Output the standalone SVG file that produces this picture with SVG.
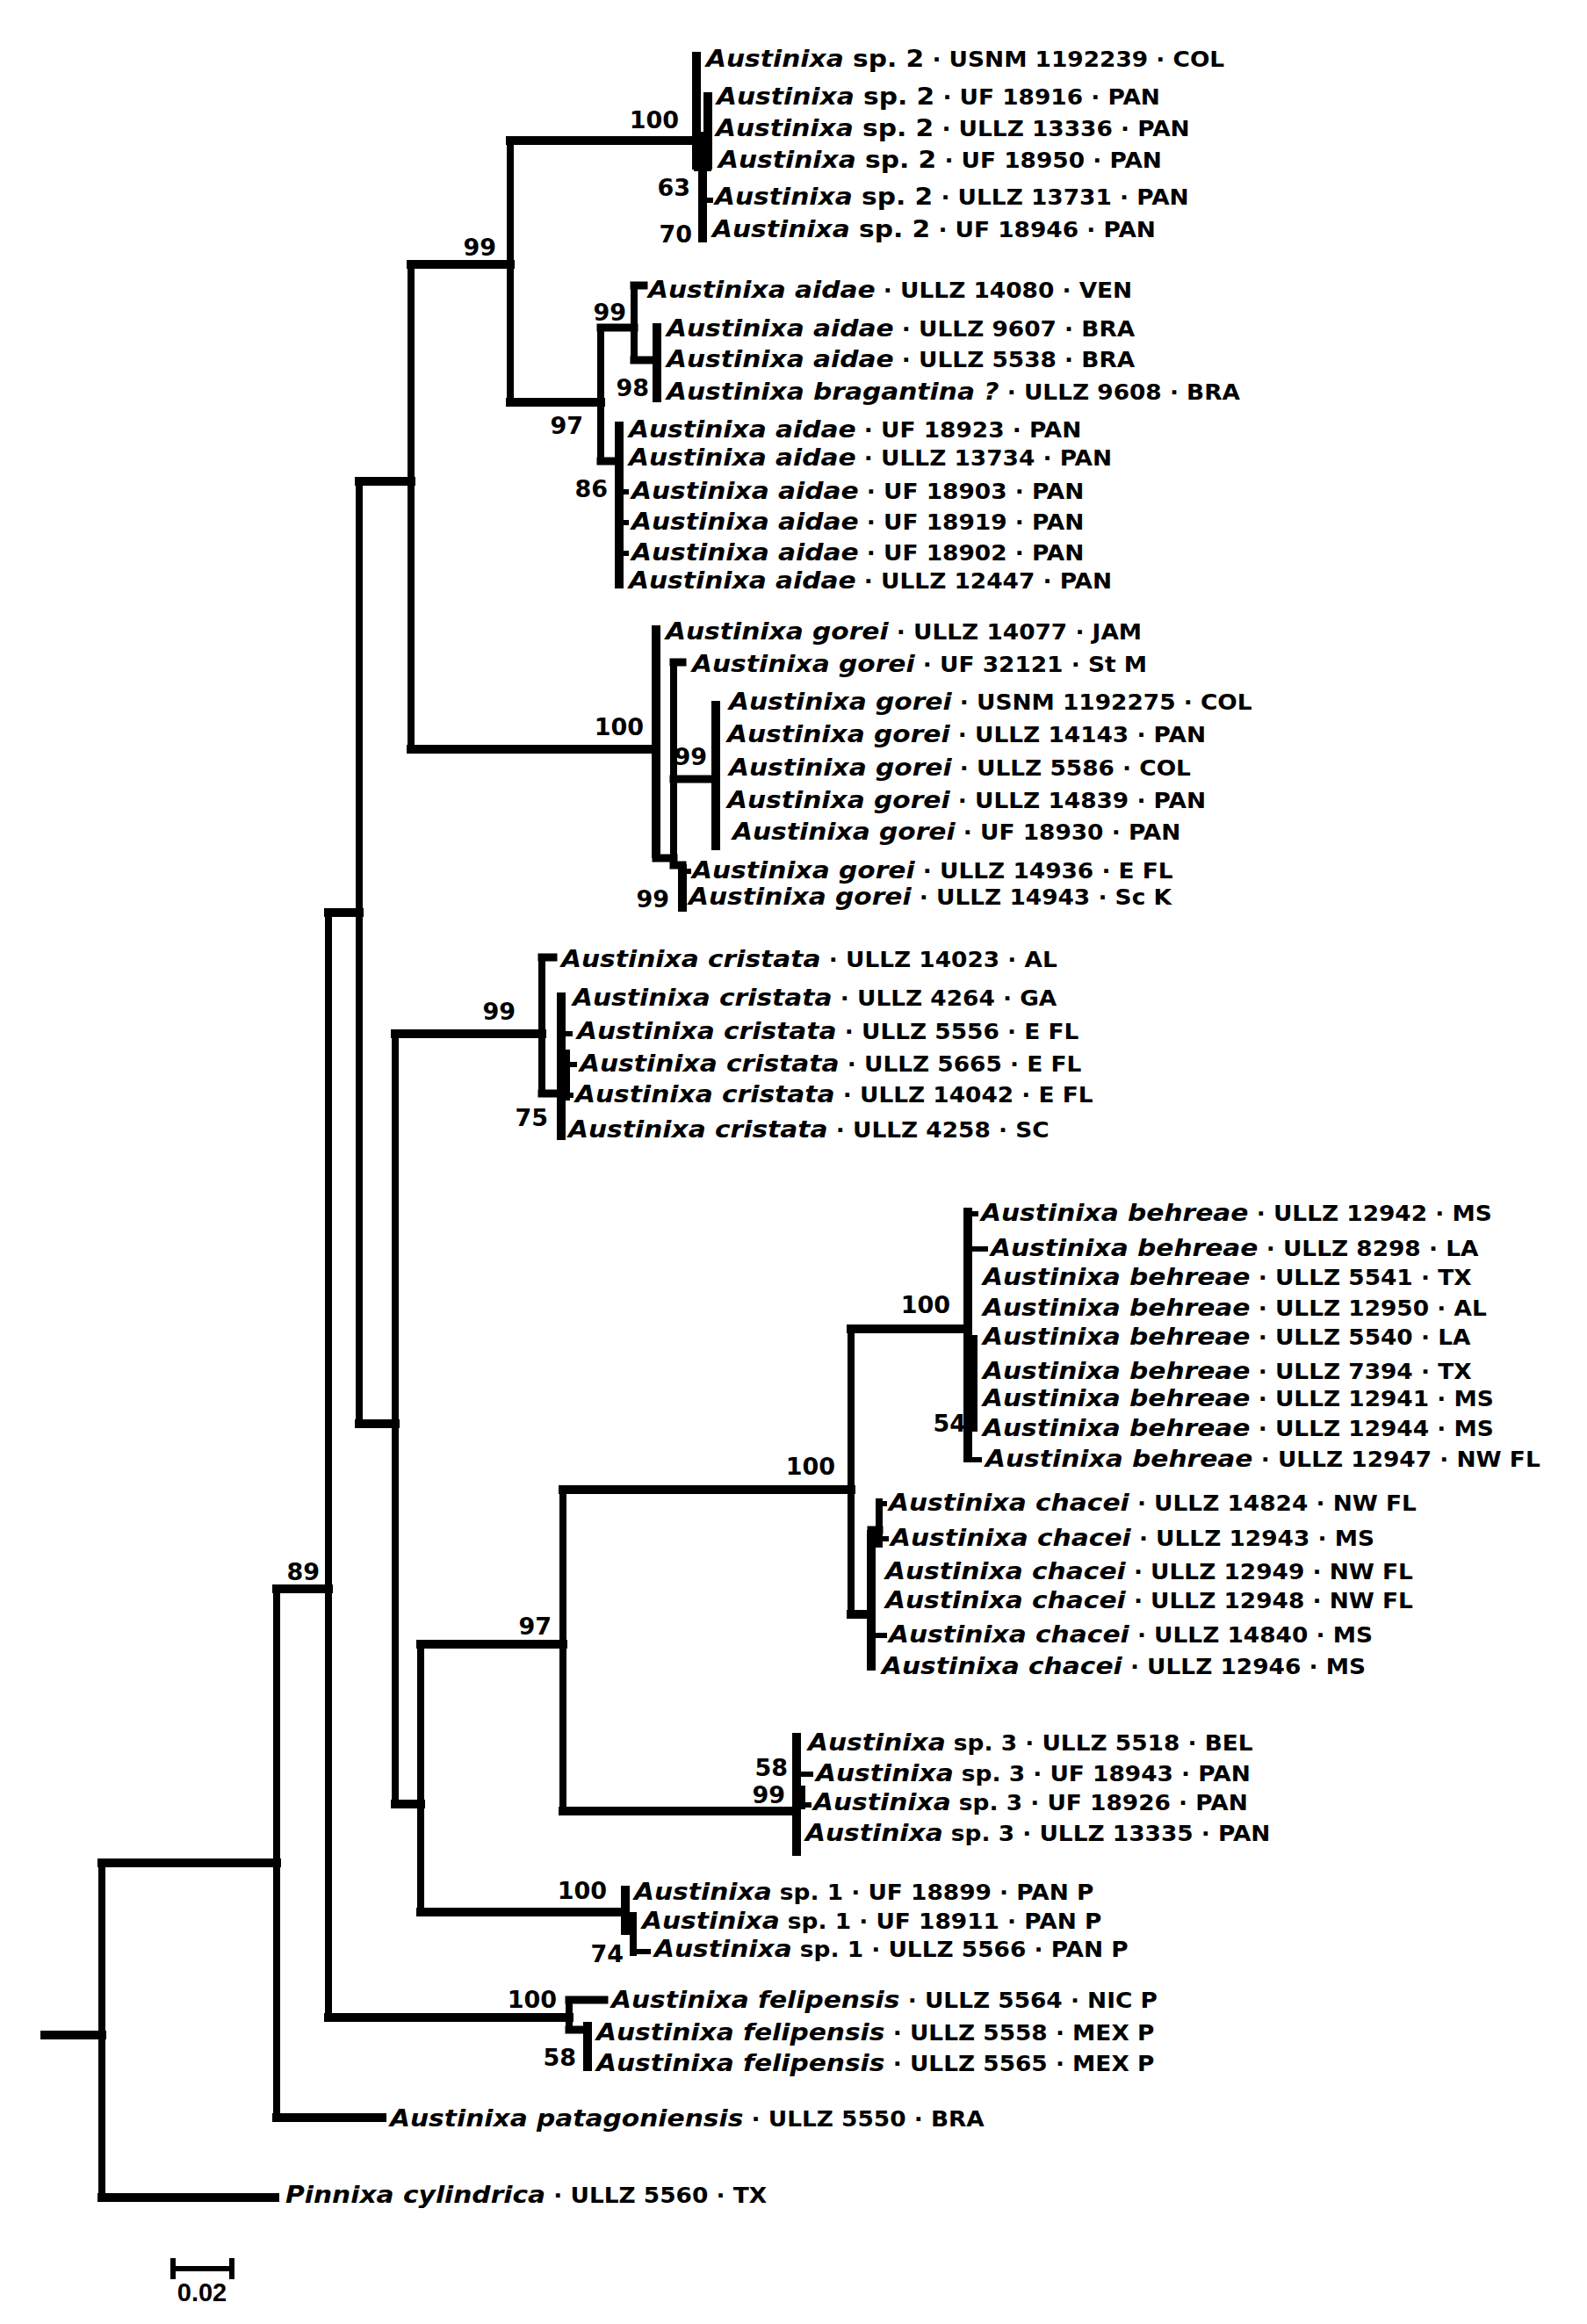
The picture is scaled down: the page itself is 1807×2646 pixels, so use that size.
<svg xmlns="http://www.w3.org/2000/svg" width="1807" height="2646" viewBox="0 0 1807 2646">
<style>
.h{fill:none;stroke:#000;stroke-width:10;stroke-linecap:square}
.hi{fill:none;stroke:#000;stroke-width:9;stroke-linecap:square}
.v{fill:none;stroke:#000;stroke-width:8;stroke-linecap:square}
.tp{fill:none;stroke:#000;stroke-width:10}
.in{fill:none;stroke:#000;stroke-width:8}
.tk{fill:none;stroke:#000;stroke-width:6}
.t{font-family:"DejaVu Sans","Liberation Sans",sans-serif;font-weight:bold;font-size:24px;fill:#000}
.i{font-style:italic;font-size:27px}
.n{font-size:27px}
.s{font-family:"DejaVu Sans","Liberation Sans",sans-serif;font-weight:bold;font-size:27px;fill:#000;text-anchor:end}
.sc{font-family:"Liberation Sans",Arial,sans-serif;font-weight:bold;font-size:29px;fill:#000;text-anchor:middle}
</style>
<rect width="1807" height="2646" fill="#fff"/>
<g id="connectors">
<path class="h" d="M51 2317 H116 M116 2502 H313 M116 2121 H315 M315 2411 H435 M315 1809 H374 M374 2297 H648 M374 1039 H409 M409 548 H468 M409 1621 H450 M468 301 H581 M468 853 H747 M581 160 H794 M581 458 H684 M450 1177 H617 M450 2054 H479 M479 1872 H641 M479 2177 H712 M641 1696 H969 M641 2062 H907 M969 1513 H1102 M969 1838 H992"/>
<path class="v" d="M116 2121 V2502 M315 1809 V2411 M374 1039 V2297 M409 548 V1621 M468 301 V853 M581 160 V458 M450 1177 V2054 M479 1872 V2177 M641 1696 V2062 M969 1513 V1838"/>
<!-- sp2 -->
<path class="tp" d="M793 59 V193"/>
<path class="tp" d="M806 105 V193"/>
<path class="in" d="M800 150 V195" style="stroke-width:20"/>
<path class="tp" d="M800 193 V276"/>
<path class="tk" d="M800 228 H812"/>
<!-- aidae -->
<path class="hi" d="M684 373 H722 M722 325 H733 M722 410 H748 M684 525 H705"/>
<path class="v" d="M684 373 V525 M722 325 V410"/>
<path class="tp" d="M748 368 V458"/>
<path class="tp" d="M705 480 V670"/>
<path class="tk" d="M705 560 H716 M705 595 H716 M705 630 H716"/>
<!-- gorei -->
<path class="hi" d="M747 977 H767 M767 754 H777 M767 887 H815 M767 985 H777"/>
<path class="v" d="M767 754 V985"/>
<path class="tp" d="M747 712 V977"/>
<path class="tp" d="M815 798 V968"/>
<path class="tp" d="M777 984 V1038"/>
<path class="tk" d="M777 992 H787"/>
<!-- cristata -->
<path class="hi" d="M617 1090 H630 M617 1245 H639"/>
<path class="v" d="M617 1090 V1245"/>
<path class="tp" d="M639 1130 V1298"/>
<path class="in" d="M645 1195 V1253"/>
<path class="tk" d="M639 1177 H652 M645 1212 H657 M645 1247 H653"/>
<!-- behreae -->
<path class="tp" d="M1102 1375 V1665"/>
<path class="in" d="M1109 1520 V1630"/>
<path class="tk" d="M1102 1382 H1114 M1102 1422 H1125 M1102 1662 H1118"/>
<!-- chacei -->
<path class="tp" d="M992 1742 V1902"/>
<path class="hi" d="M992 1742 H1001"/>
<path class="in" d="M1001 1706 V1762"/>
<path class="tk" d="M1001 1712 H1010 M1001 1752 H1012 M992 1862 H1010"/>
<!-- sp3 -->
<path class="tp" d="M907 1973 V2113"/>
<path class="in" d="M913 2033 V2060"/>
<path class="tk" d="M907 2020 H926 M913 2055 H924"/>
<!-- sp1 -->
<path class="tp" d="M712 2147 V2203"/>
<path class="in" d="M721 2177 V2227"/>
<path class="tk" d="M721 2222 H741"/>
<!-- felipensis -->
<path class="hi" d="M648 2277 H688 M648 2311 H669"/>
<path class="v" d="M648 2277 V2311"/>
<path class="tp" d="M669 2302 V2358"/>
</g>
<g id="support">
<text class="s" x="565" y="291">99</text>
<text class="s" x="773" y="146">100</text>
<text class="s" x="786" y="223">63</text>
<text class="s" x="788" y="276">70</text>
<text class="s" x="713" y="365">99</text>
<text class="s" x="739" y="451">98</text>
<text class="s" x="664" y="494">97</text>
<text class="s" x="692" y="566">86</text>
<text class="s" x="733" y="837">100</text>
<text class="s" x="805" y="871">99</text>
<text class="s" x="762" y="1033">99</text>
<text class="s" x="587" y="1161">99</text>
<text class="s" x="624" y="1282">75</text>
<text class="s" x="1082" y="1495">100</text>
<text class="s" x="1100" y="1630">54</text>
<text class="s" x="951" y="1679">100</text>
<text class="s" x="628" y="1861">97</text>
<text class="s" x="897" y="2022">58</text>
<text class="s" x="894" y="2053">99</text>
<text class="s" x="364" y="1799">89</text>
<text class="s" x="691" y="2162">100</text>
<text class="s" x="710" y="2234">74</text>
<text class="s" x="634" y="2286">100</text>
<text class="s" x="656" y="2352">58</text>
</g>
<g id="sp2-USNM1192239"><text class="t" transform="translate(804 76) scale(1.1 1)"><tspan class="i">Austinixa</tspan><tspan class="n"> sp. 2</tspan> · USNM 1192239 · COL</text></g>
<g id="sp2-UF18916"><text class="t" transform="translate(816 119) scale(1.1 1)"><tspan class="i">Austinixa</tspan><tspan class="n"> sp. 2</tspan> · UF 18916 · PAN</text></g>
<g id="sp2-ULLZ13336"><text class="t" transform="translate(815 155) scale(1.1 1)"><tspan class="i">Austinixa</tspan><tspan class="n"> sp. 2</tspan> · ULLZ 13336 · PAN</text></g>
<g id="sp2-UF18950"><text class="t" transform="translate(818 191) scale(1.1 1)"><tspan class="i">Austinixa</tspan><tspan class="n"> sp. 2</tspan> · UF 18950 · PAN</text></g>
<g id="sp2-ULLZ13731"><text class="t" transform="translate(814 233) scale(1.1 1)"><tspan class="i">Austinixa</tspan><tspan class="n"> sp. 2</tspan> · ULLZ 13731 · PAN</text></g>
<g id="sp2-UF18946"><text class="t" transform="translate(811 270) scale(1.1 1)"><tspan class="i">Austinixa</tspan><tspan class="n"> sp. 2</tspan> · UF 18946 · PAN</text></g>
<g id="aidae-ULLZ14080"><text class="t" transform="translate(738 339) scale(1.1 1)"><tspan class="i">Austinixa aidae</tspan> · ULLZ 14080 · VEN</text></g>
<g id="aidae-ULLZ9607"><text class="t" transform="translate(759 383) scale(1.1 1)"><tspan class="i">Austinixa aidae</tspan> · ULLZ 9607 · BRA</text></g>
<g id="aidae-ULLZ5538"><text class="t" transform="translate(759 418) scale(1.1 1)"><tspan class="i">Austinixa aidae</tspan> · ULLZ 5538 · BRA</text></g>
<g id="bragantina-ULLZ9608"><text class="t" transform="translate(759 455) scale(1.1 1)"><tspan class="i">Austinixa bragantina ?</tspan> · ULLZ 9608 · BRA</text></g>
<g id="aidae-UF18923"><text class="t" transform="translate(716 498) scale(1.1 1)"><tspan class="i">Austinixa aidae</tspan> · UF 18923 · PAN</text></g>
<g id="aidae-ULLZ13734"><text class="t" transform="translate(716 530) scale(1.1 1)"><tspan class="i">Austinixa aidae</tspan> · ULLZ 13734 · PAN</text></g>
<g id="aidae-UF18903"><text class="t" transform="translate(719 568) scale(1.1 1)"><tspan class="i">Austinixa aidae</tspan> · UF 18903 · PAN</text></g>
<g id="aidae-UF18919"><text class="t" transform="translate(719 603) scale(1.1 1)"><tspan class="i">Austinixa aidae</tspan> · UF 18919 · PAN</text></g>
<g id="aidae-UF18902"><text class="t" transform="translate(719 638) scale(1.1 1)"><tspan class="i">Austinixa aidae</tspan> · UF 18902 · PAN</text></g>
<g id="aidae-ULLZ12447"><text class="t" transform="translate(716 670) scale(1.1 1)"><tspan class="i">Austinixa aidae</tspan> · ULLZ 12447 · PAN</text></g>
<g id="gorei-ULLZ14077"><text class="t" transform="translate(758 728) scale(1.1 1)"><tspan class="i">Austinixa gorei</tspan> · ULLZ 14077 · JAM</text></g>
<g id="gorei-UF32121"><text class="t" transform="translate(788 765) scale(1.1 1)"><tspan class="i">Austinixa gorei</tspan> · UF 32121 · St M</text></g>
<g id="gorei-USNM1192275"><text class="t" transform="translate(830 808) scale(1.1 1)"><tspan class="i">Austinixa gorei</tspan> · USNM 1192275 · COL</text></g>
<g id="gorei-ULLZ14143"><text class="t" transform="translate(828 845) scale(1.1 1)"><tspan class="i">Austinixa gorei</tspan> · ULLZ 14143 · PAN</text></g>
<g id="gorei-ULLZ5586"><text class="t" transform="translate(830 883) scale(1.1 1)"><tspan class="i">Austinixa gorei</tspan> · ULLZ 5586 · COL</text></g>
<g id="gorei-ULLZ14839"><text class="t" transform="translate(828 920) scale(1.1 1)"><tspan class="i">Austinixa gorei</tspan> · ULLZ 14839 · PAN</text></g>
<g id="gorei-UF18930"><text class="t" transform="translate(834 956) scale(1.1 1)"><tspan class="i">Austinixa gorei</tspan> · UF 18930 · PAN</text></g>
<g id="gorei-ULLZ14936"><text class="t" transform="translate(788 1000) scale(1.1 1)"><tspan class="i">Austinixa gorei</tspan> · ULLZ 14936 · E FL</text></g>
<g id="gorei-ULLZ14943"><text class="t" transform="translate(784 1030) scale(1.1 1)"><tspan class="i">Austinixa gorei</tspan> · ULLZ 14943 · Sc K</text></g>
<g id="cristata-ULLZ14023"><text class="t" transform="translate(639 1101) scale(1.1 1)"><tspan class="i">Austinixa cristata</tspan> · ULLZ 14023 · AL</text></g>
<g id="cristata-ULLZ4264"><text class="t" transform="translate(652 1145) scale(1.1 1)"><tspan class="i">Austinixa cristata</tspan> · ULLZ 4264 · GA</text></g>
<g id="cristata-ULLZ5556"><text class="t" transform="translate(657 1183) scale(1.1 1)"><tspan class="i">Austinixa cristata</tspan> · ULLZ 5556 · E FL</text></g>
<g id="cristata-ULLZ5665"><text class="t" transform="translate(660 1220) scale(1.1 1)"><tspan class="i">Austinixa cristata</tspan> · ULLZ 5665 · E FL</text></g>
<g id="cristata-ULLZ14042"><text class="t" transform="translate(655 1255) scale(1.1 1)"><tspan class="i">Austinixa cristata</tspan> · ULLZ 14042 · E FL</text></g>
<g id="cristata-ULLZ4258"><text class="t" transform="translate(647 1295) scale(1.1 1)"><tspan class="i">Austinixa cristata</tspan> · ULLZ 4258 · SC</text></g>
<g id="behreae-ULLZ12942"><text class="t" transform="translate(1117 1390) scale(1.1 1)"><tspan class="i">Austinixa behreae</tspan> · ULLZ 12942 · MS</text></g>
<g id="behreae-ULLZ8298"><text class="t" transform="translate(1128 1430) scale(1.1 1)"><tspan class="i">Austinixa behreae</tspan> · ULLZ 8298 · LA</text></g>
<g id="behreae-ULLZ5541"><text class="t" transform="translate(1119 1463) scale(1.1 1)"><tspan class="i">Austinixa behreae</tspan> · ULLZ 5541 · TX</text></g>
<g id="behreae-ULLZ12950"><text class="t" transform="translate(1119 1498) scale(1.1 1)"><tspan class="i">Austinixa behreae</tspan> · ULLZ 12950 · AL</text></g>
<g id="behreae-ULLZ5540"><text class="t" transform="translate(1119 1531) scale(1.1 1)"><tspan class="i">Austinixa behreae</tspan> · ULLZ 5540 · LA</text></g>
<g id="behreae-ULLZ7394"><text class="t" transform="translate(1119 1570) scale(1.1 1)"><tspan class="i">Austinixa behreae</tspan> · ULLZ 7394 · TX</text></g>
<g id="behreae-ULLZ12941"><text class="t" transform="translate(1119 1601) scale(1.1 1)"><tspan class="i">Austinixa behreae</tspan> · ULLZ 12941 · MS</text></g>
<g id="behreae-ULLZ12944"><text class="t" transform="translate(1119 1635) scale(1.1 1)"><tspan class="i">Austinixa behreae</tspan> · ULLZ 12944 · MS</text></g>
<g id="behreae-ULLZ12947"><text class="t" transform="translate(1122 1670) scale(1.1 1)"><tspan class="i">Austinixa behreae</tspan> · ULLZ 12947 · NW FL</text></g>
<g id="chacei-ULLZ14824"><text class="t" transform="translate(1012 1720) scale(1.1 1)"><tspan class="i">Austinixa chacei</tspan> · ULLZ 14824 · NW FL</text></g>
<g id="chacei-ULLZ12943"><text class="t" transform="translate(1014 1760) scale(1.1 1)"><tspan class="i">Austinixa chacei</tspan> · ULLZ 12943 · MS</text></g>
<g id="chacei-ULLZ12949"><text class="t" transform="translate(1008 1798) scale(1.1 1)"><tspan class="i">Austinixa chacei</tspan> · ULLZ 12949 · NW FL</text></g>
<g id="chacei-ULLZ12948"><text class="t" transform="translate(1008 1831) scale(1.1 1)"><tspan class="i">Austinixa chacei</tspan> · ULLZ 12948 · NW FL</text></g>
<g id="chacei-ULLZ14840"><text class="t" transform="translate(1012 1870) scale(1.1 1)"><tspan class="i">Austinixa chacei</tspan> · ULLZ 14840 · MS</text></g>
<g id="chacei-ULLZ12946"><text class="t" transform="translate(1004 1906) scale(1.1 1)"><tspan class="i">Austinixa chacei</tspan> · ULLZ 12946 · MS</text></g>
<g id="sp3-ULLZ5518"><text class="t" transform="translate(920 1993) scale(1.1 1)"><tspan class="i">Austinixa</tspan> sp. 3 · ULLZ 5518 · BEL</text></g>
<g id="sp3-UF18943"><text class="t" transform="translate(929 2028) scale(1.1 1)"><tspan class="i">Austinixa</tspan> sp. 3 · UF 18943 · PAN</text></g>
<g id="sp3-UF18926"><text class="t" transform="translate(926 2061) scale(1.1 1)"><tspan class="i">Austinixa</tspan> sp. 3 · UF 18926 · PAN</text></g>
<g id="sp3-ULLZ13335"><text class="t" transform="translate(917 2096) scale(1.1 1)"><tspan class="i">Austinixa</tspan> sp. 3 · ULLZ 13335 · PAN</text></g>
<g id="sp1-UF18899"><text class="t" transform="translate(722 2163) scale(1.1 1)"><tspan class="i">Austinixa</tspan> sp. 1 · UF 18899 · PAN P</text></g>
<g id="sp1-UF18911"><text class="t" transform="translate(731 2196) scale(1.1 1)"><tspan class="i">Austinixa</tspan> sp. 1 · UF 18911 · PAN P</text></g>
<g id="sp1-ULLZ5566"><text class="t" transform="translate(745 2228) scale(1.1 1)"><tspan class="i">Austinixa</tspan> sp. 1 · ULLZ 5566 · PAN P</text></g>
<g id="felipensis-ULLZ5564"><text class="t" transform="translate(696 2286) scale(1.1 1)"><tspan class="i">Austinixa felipensis</tspan> · ULLZ 5564 · NIC P</text></g>
<g id="felipensis-ULLZ5558"><text class="t" transform="translate(679 2323) scale(1.1 1)"><tspan class="i">Austinixa felipensis</tspan> · ULLZ 5558 · MEX P</text></g>
<g id="felipensis-ULLZ5565"><text class="t" transform="translate(679 2358) scale(1.1 1)"><tspan class="i">Austinixa felipensis</tspan> · ULLZ 5565 · MEX P</text></g>
<g id="patagoniensis-ULLZ5550"><text class="t" transform="translate(444 2421) scale(1.1 1)"><tspan class="i">Austinixa patagoniensis</tspan> · ULLZ 5550 · BRA</text></g>
<g id="pinnixa-ULLZ5560"><text class="t" transform="translate(325 2508) scale(1.1 1)"><tspan class="i">Pinnixa cylindrica</tspan> · ULLZ 5560 · TX</text></g>
<g id="scale-bar">
<path class="tk" d="M197 2583 H264 M197 2571 V2595 M264 2571 V2595"/>
<text class="sc" x="230" y="2620">0.02</text>
</g>
</svg>
